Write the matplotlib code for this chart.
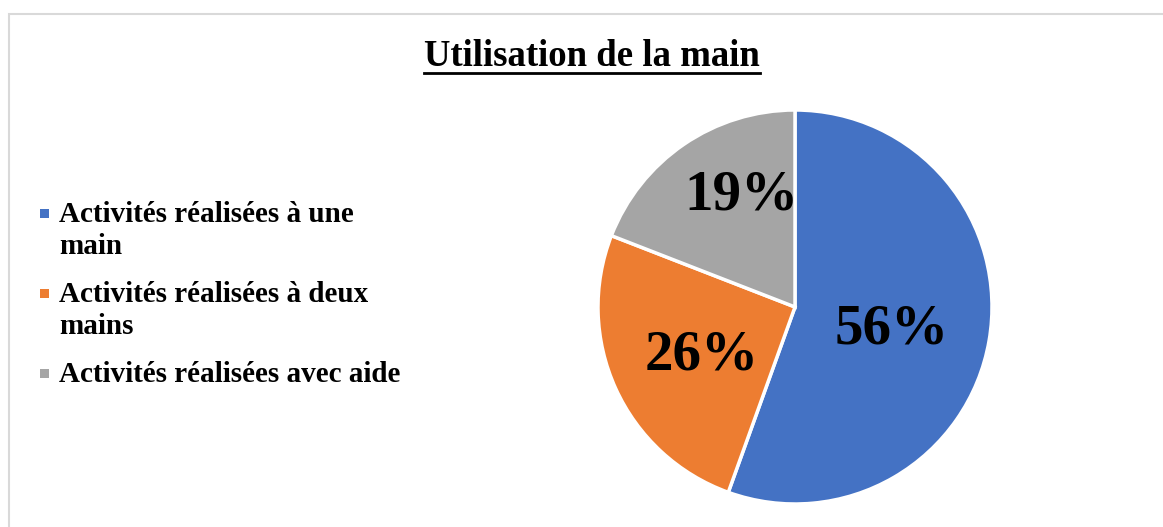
import matplotlib
matplotlib.use('Agg')
import matplotlib.pyplot as plt
from matplotlib.patches import Rectangle
from matplotlib.lines import Line2D
import numpy as np

plt.rcParams['font.family'] = ['Liberation Serif', 'DejaVu Serif']

#data
categories = ['Activités réalisées à une\nmain',
              'Activités réalisées à deux\nmains',
              'Activités réalisées avec aide']
shares = [55.5, 25.4, 19.1]
pct_labels = ['56%', '26%', '19%']
colors = ['#4472C4', '#ED7D31', '#A5A5A5']
title = 'Utilisation de la main'

W, H = 1163, 527
fig = plt.figure(figsize=(W/100, H/100), dpi=100)

#grey frame, runs off right and bottom
fig.patches.append(Rectangle((8.5/W, -0.05), 1.2, 1 - 13.5/H + 0.05,
                             transform=fig.transFigure, fill=False,
                             edgecolor='#d9d9d9', linewidth=1.5))

#pie
cx, cy, r = 795, 307, 197
ax = fig.add_axes([(cx - r)/W, (H - cy - r)/H, 2*r/W, 2*r/H])
wedges, _ = ax.pie(shares, colors=colors, startangle=90, counterclock=False,
                   wedgeprops=dict(edgecolor='white', linewidth=2.5))
ax.set_xlim(-1, 1)
ax.set_ylim(-1, 1)
ax.set_aspect('equal')

dists = [0.5, 0.52, 0.66]
nudge = [(0, -0.03), (0, -0.03), (0.10, 0.02)]   #excel pulls the small label inward
for w, lab, d, (nx, ny) in zip(wedges, pct_labels, dists, nudge):
    mid = np.deg2rad(0.5*(w.theta1 + w.theta2))
    ax.text(d*np.cos(mid) + nx, d*np.sin(mid) + ny, lab, ha='center', va='center',
            fontsize=41, fontweight='bold', color='black')

#title with underline
t = fig.text(592/W, 1 - 57/H, title, ha='center', va='center',
             fontsize=26.5, fontweight='bold')
fig.canvas.draw()
bb = t.get_window_extent(fig.canvas.get_renderer())
uy = bb.y0 + 2
fig.lines.append(Line2D([bb.x0/W, bb.x1/W], [uy/H, uy/H],
                        transform=fig.transFigure, color='black', linewidth=2))

#legend, drawn by hand so the square sits on the first line
ys = [213, 293, 373]
for lab, c, y in zip(categories, colors, ys):
    s = 9
    fig.patches.append(Rectangle(((44 - s/2)/W, (H - y - s/2)/H), s/W, s/H,
                                 transform=fig.transFigure, facecolor=c,
                                 edgecolor='none'))
    fig.text(59/W, 1 - (y - 12)/H, lab, ha='left', va='top', fontsize=21,
             fontweight='bold', linespacing=1.22)

fig.savefig('out.png', dpi=100)
